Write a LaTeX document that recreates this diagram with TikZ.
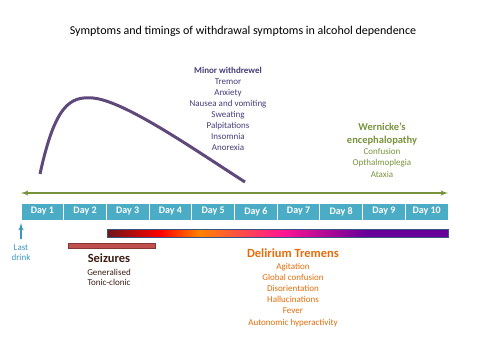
\documentclass[tikz,border=0pt]{standalone}
\usepackage{fontspec}
\setmainfont{Carlito}
\usepackage{tikz}
\usetikzlibrary{positioning}
\usetikzlibrary{shapes,arrows}
\definecolor{daycol}{RGB}{75,172,198}
\definecolor{linecol}{RGB}{119,147,60}
\definecolor{curvecol}{RGB}{95,73,122}
\definecolor{minorcol}{RGB}{70,60,120}
\definecolor{dtcol}{RGB}{228,108,10}
\definecolor{seizcol}{RGB}{192,80,77}
\definecolor{seiztext}{RGB}{60,30,20}
\definecolor{drinkcol}{RGB}{60,150,190}
\definecolor{dtborder}{RGB}{55,85,130}
\definecolor{dtdark}{RGB}{110,22,25}
\definecolor{dtred}{RGB}{255,0,0}
\definecolor{dtorange}{RGB}{255,130,0}
\definecolor{dtpink}{RGB}{255,20,147}
\definecolor{dtpurple}{RGB}{102,0,153}
\pgfdeclarehorizontalshading{dtshade}{100bp}{color(0bp)=(dtdark);
  color(25bp)=(dtdark); color(32.8bp)=(dtred); color(38.6bp)=(dtorange);
  color(50.8bp)=(dtpink); color(63.1bp)=(dtpurple);
  color(75bp)=(dtpurple); color(100bp)=(dtpurple)}
\tikzstyle{day} = [rectangle, draw=white, line width=1pt, fill=daycol,
text=white, font=\fontsize{10}{12}\selectfont\bfseries, minimum width=42.7pt,
minimum height=17pt, inner sep=0pt, outer sep=0pt]
\tikzstyle{line} = [draw, <->, >=latex', linecol, line width=1.5pt]
\tikzstyle{minor} = [align=center, text=minorcol, inner sep=0pt,
font=\fontsize{9}{11.1}\selectfont]
\tikzstyle{wern} = [align=center, text=linecol, inner sep=0pt,
font=\fontsize{9}{11.5}\selectfont]
\tikzstyle{dt} = [align=center, text=dtcol, inner sep=0pt,
font=\fontsize{9}{11.2}\selectfont]
\tikzstyle{seiz} = [align=center, text=seiztext, inner sep=0pt,
font=\fontsize{9}{10}\selectfont]

\begin{document}
\begin{tikzpicture}[x=1pt, y=-1pt, node distance = 1cm, auto]
  \useasboundingbox (0,0) rectangle (480,360);

          % Title
    \node (title) at (243,31) {\fontsize{12}{14}\selectfont Symptoms and timings of withdrawal symptoms in alcohol dependence};
          % Day boxes
    \node [day, anchor=north west] (d1) at (21,203) {Day 1};
    \node [day, right=0pt of d1] (d2) {Day 2};
    \node [day, right=0pt of d2] (d3) {Day 3};
    \node [day, right=0pt of d3] (d4) {Day 4};
    \node [day, right=0pt of d4] (d5) {Day 5};
    \node [day, right=0pt of d5] (d6) {Day 6};
    \node [day, right=0pt of d6] (d7) {Day 7};
    \node [day, right=0pt of d7] (d8) {Day 8};
    \node [day, right=0pt of d8] (d9) {Day 9};
    \node [day, right=0pt of d9] (d10) {Day 10};
          % timeline
    \coordinate (tl) at ([yshift=10pt]d1.north west);
    \coordinate (tr) at ([yshift=10pt]d10.north east);
    \path [line] (tl) -- (tr);
          % minor withdrawal curve
    \draw [curvecol, line width=3pt] (40,174) .. controls (55,105) and (70,96) .. (93,98)
          .. controls (125,101) and (195,150) .. (245,182);
    \node [minor] (minor) at (228,70) {\bfseries Minor withdrewel};
    \node [minor, below=5pt of minor] (minorsym) {Tremor\\Anxiety\\Nausea and vomiting\\Sweating\\Palpitations\\Insomnia\\Anorexia};
          % Wernicke
    \node [wern, font=\fontsize{10.5}{13}\selectfont\bfseries] (wern) at (382,133.5) {Wernicke's\\encephalopathy};
    \node [wern, below=3pt of wern] (wernsym) {Confusion\\Opthalmoplegia\\Ataxia};
          % last drink
    \node [align=center, text=drinkcol, inner sep=0pt, font=\fontsize{9}{10}\selectfont] (last) at (21,253) {Last\\drink};
    \draw [-latex', drinkcol, line width=1.5pt, shorten >=3pt] ([yshift=6pt]last.north) -- (d1.south west);
          % delirium tremens bar
    \shade [shading=dtshade, draw=dtborder, line width=0.8pt] (107,229) rectangle (448,237);
    \node [dt, font=\fontsize{12.5}{14}\selectfont\bfseries] (dt) at (293,253) {Delirium Tremens};
    \node [dt, below=5pt of dt] (dtsym) {Agitation\\Global confusion\\Disorientation\\Hallucinations\\Fever\\Autonomic hyperactivity};
          % seizures bar
    \draw [fill=seizcol, draw=seizcol!70!black, line width=0.6pt] (68,243) rectangle (155,248);
    \node [seiz, font=\fontsize{12.5}{14}\selectfont\bfseries] (seiz) at (109,258) {Seizures};
    \node [seiz, below=6pt of seiz] (seizsym) {Generalised\\Tonic-clonic};
  \end{tikzpicture}
\end{document}
